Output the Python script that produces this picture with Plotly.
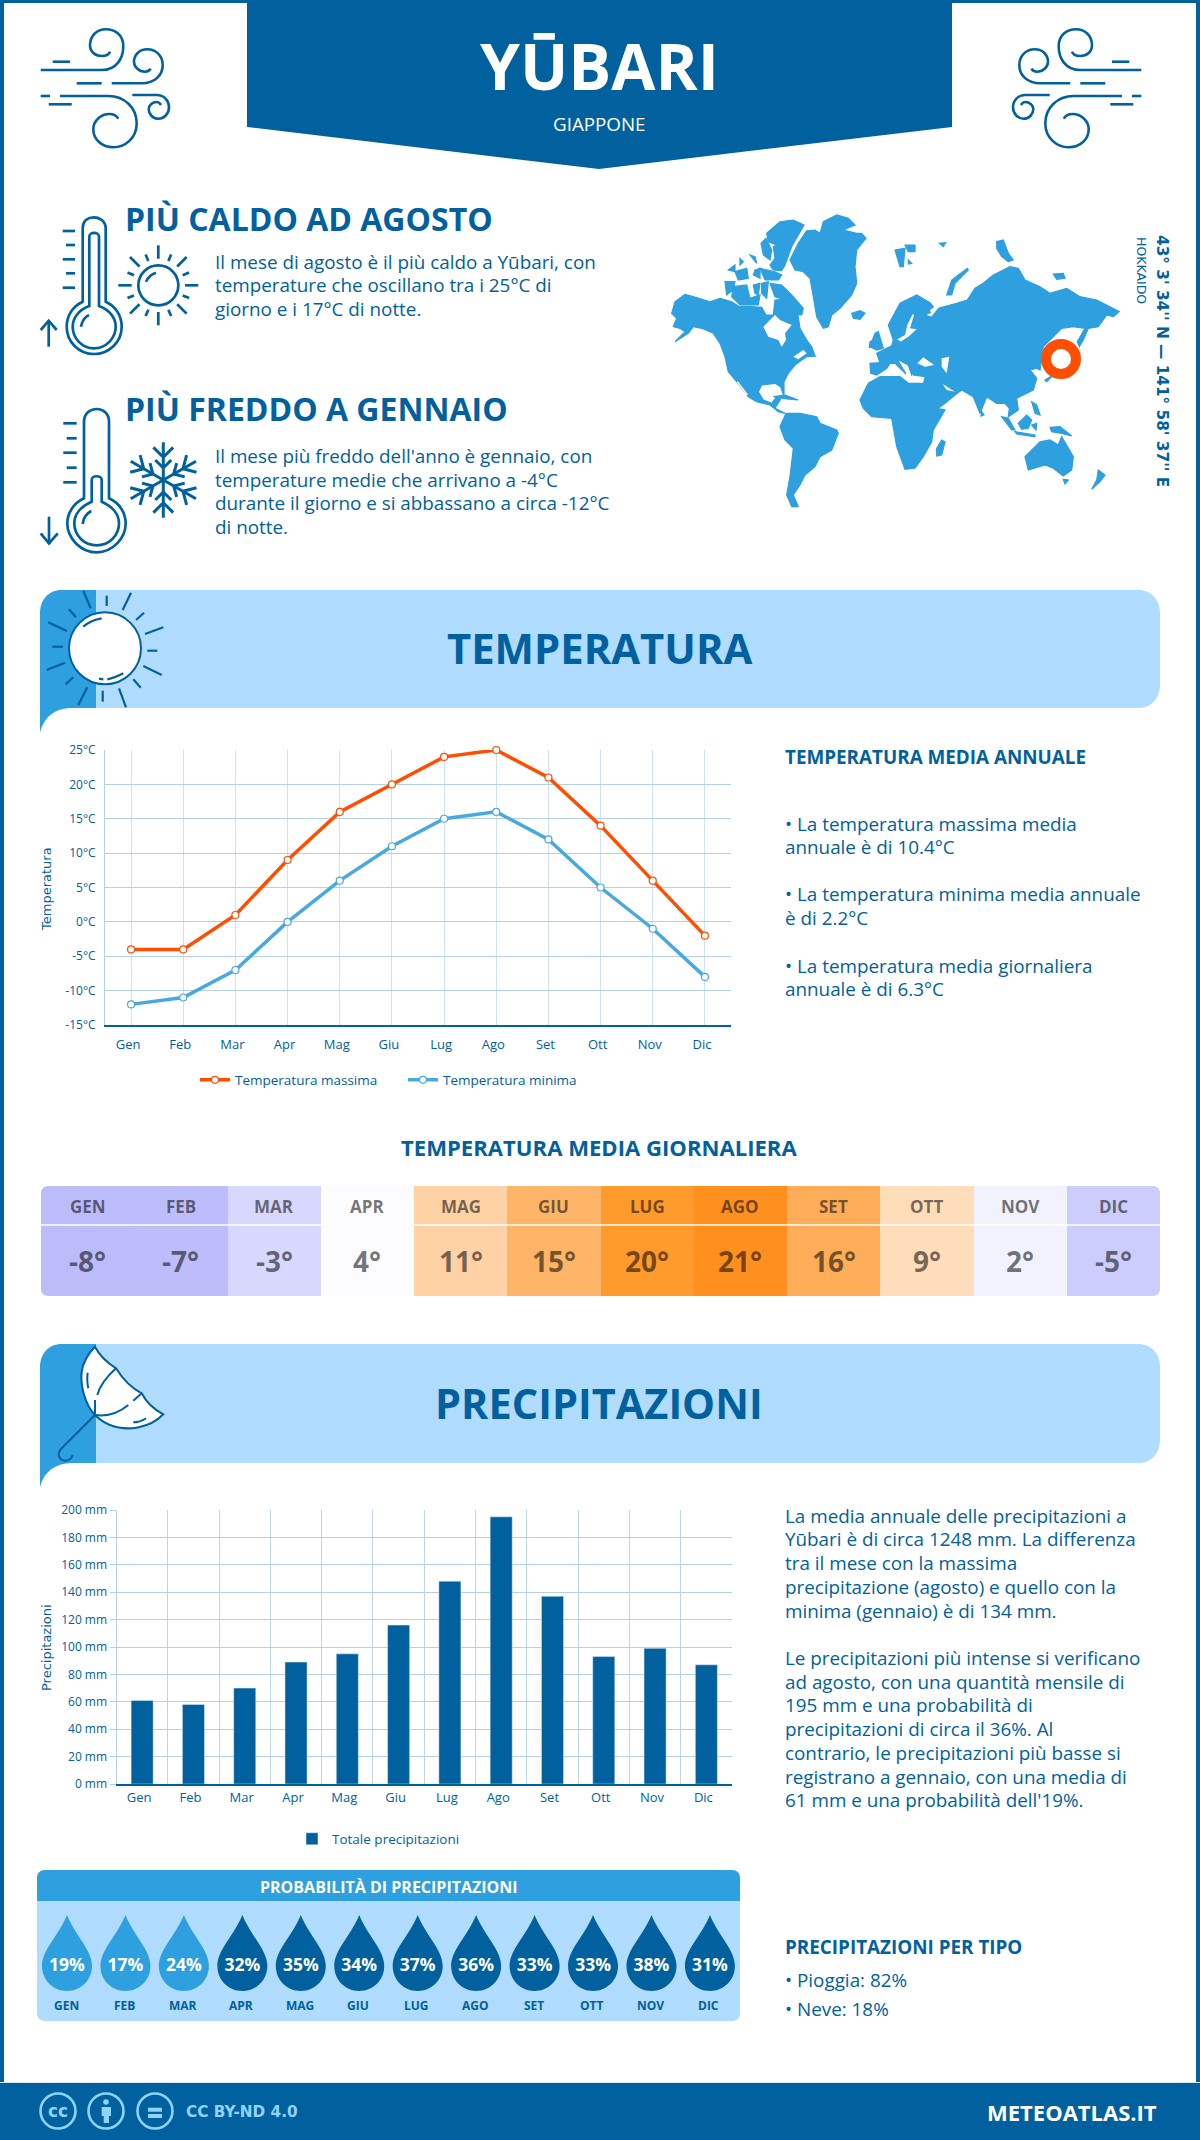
import math
import re
import plotly.graph_objects as go

W = 1200
H = 2140

months = ['Gen','Feb','Mar','Apr','Mag','Giu','Lug','Ago','Set','Ott','Nov','Dic']
months_upper = ['GEN','FEB','MAR','APR','MAG','GIU','LUG','AGO','SET','OTT','NOV','DIC']
temp_max = [-4,-4,1,9,16,20,24,25,21,14,6,-2]
temp_min = [-12,-11,-7,0,6,11,15,16,12,5,-1,-8]
temp_mean = [-8,-7,-3,4,11,15,20,21,16,9,2,-5]
precip_mm = [61,58,70,89,95,116,148,195,137,93,99,87]
precip_prob = [19,17,24,32,35,34,37,36,33,33,38,31]
temp_tick_vals = [-15,-10,-5,0,5,10,15,20,25]
temp_tick_text = ['-15°C','-10°C','-5°C','0°C','5°C','10°C','15°C','20°C','25°C']
precip_tick_vals = [0,20,40,60,80,100,120,140,160,180,200]
precip_tick_text = ['0 mm','20 mm','40 mm','60 mm','80 mm','100 mm','120 mm','140 mm','160 mm','180 mm','200 mm']

temp_color_stops = {-8:'#bdbcfb',-7:'#bebdfb',-5:'#cdcdfd',-3:'#d8d7fe',2:'#f2f2fe',4:'#fcfbfe',9:'#ffdcba',11:'#ffd2a6',15:'#ffb568',16:'#ffad59',20:'#ff9a2c',21:'#ff8f1f'}

hot_text = ['Il mese di agosto è il più caldo a Yūbari, con','temperature che oscillano tra i 25°C di','giorno e i 17°C di notte.']
cold_text = ["Il mese più freddo dell'anno è gennaio, con",'temperature medie che arrivano a -4°C','durante il giorno e si abbassano a circa -12°C','di notte.']
temp_notes = ['• La temperatura massima media','annuale è di 10.4°C','• La temperatura minima media annuale','è di 2.2°C','• La temperatura media giornaliera','annuale è di 6.3°C']
temp_notes_y = [824,847,894,918,966,989]
precip_notes = ['La media annuale delle precipitazioni a','Yūbari è di circa 1248 mm. La differenza','tra il mese con la massima','precipitazione (agosto) e quello con la','minima (gennaio) è di 134 mm.','Le precipitazioni più intense si verificano','ad agosto, con una quantità mensile di','195 mm e una probabilità di','precipitazioni di circa il 36%. Al','contrario, le precipitazioni più basse si','registrano a gennaio, con una media di',"61 mm e una probabilità dell'19%."]
precip_notes_y = [1516,1539,1563,1587,1611,1658,1682,1705,1729,1753,1777,1800]

DARK = '#01609e'
MID = '#2e9fdf'
LIGHT = '#b0dcff'
ORANGE = '#ff4e00'
GRID = '#b3d0e4'
CC_BLUE = '#8fd4ff'
FONT = 'Open Sans'
BODY = 18.85

shapes = []
annotations = []

def add_path(d, color=None, width=0, fill=None, layer='above'):
	shapes.append(dict(
		type = 'path',
		path = d,
		xref = 'x',
		yref = 'y',
		layer = layer,
		line = dict(color = color if color else 'rgba(0,0,0,0)', width = width),
		fillcolor = fill if fill else 'rgba(0,0,0,0)',
	))

def add_circle(cx, cy, r, color=None, width=0, fill=None, layer='above'):
	shapes.append(dict(
		type = 'circle',
		xref = 'x',
		yref = 'y',
		x0 = cx-r,
		x1 = cx+r,
		y0 = cy-r,
		y1 = cy+r,
		layer = layer,
		line = dict(color = color if color else 'rgba(0,0,0,0)', width = width),
		fillcolor = fill if fill else 'rgba(0,0,0,0)',
	))

def label(x, y, text, size, color=DARK, weight=400, anchor='left', family=FONT, angle=0):
	annotations.append(dict(
		x = x,
		y = y,
		xref = 'x',
		yref = 'y',
		text = text,
		showarrow = False,
		xanchor = anchor,
		yanchor = 'middle',
		textangle = angle,
		borderpad = 0,
		font = dict(family = family, size = size, color = color, weight = weight),
	))

def moved(d, ox, oy, mirror=None):
	def one_pair(m):
		x = ox + float(m.group(1))/3
		y = oy + float(m.group(2))/3
		if mirror is not None:
			x = mirror - x
		return f'{x:.1f},{y:.1f}'
	return re.sub(r'(-?[\d.]+),(-?[\d.]+)', one_pair, d)

def poly(points, ox, oy):
	return 'M' + ' L'.join(f'{ox+x/3:.1f},{oy+y/3:.1f}' for x,y in points) + ' Z'

# Frame and header --------------------------------------------------------
add_path('M0,0 L1200,0 L1200,2090 L1196,2090 L1196,3 L4,3 L4,2090 L0,2090 Z', fill=DARK, layer='below')
add_path('M247,0 L952,0 L952,127 L599,169 L247,127 Z', fill=DARK, layer='below')
add_path('M0,2082 L1200,2082 L1200,2140 L0,2140 Z', fill='#dfe6ea', layer='below')
add_path('M0,2083 L1200,2083 L1200,2140 L0,2140 Z', fill=DARK, layer='below')
label(599, 65, 'YŪBARI', 64, color='white', weight=700, anchor='center')
label(599, 124, 'GIAPPONE', 18.8, color='white', anchor='center')

wind_paths = [
	'M62,180 L245,180 C290,180 310,145 310,108 C310,75 285,58 258,58 C230,58 210,78 210,105 C210,125 225,138 245,138 C258,138 268,132 270,125',
	'M98,155 L150,155',
	'M170,220 L245,220',
	'M275,220 L365,220 C405,220 428,195 428,165 C428,135 405,118 382,118 C358,118 342,135 342,155 C342,172 358,185 375,185 C382,185 388,182 392,176',
	'M62,258 L90,258',
	'M120,258 L265,258 C315,258 350,295 350,340 C350,385 315,412 280,412 C245,412 220,388 220,358 C220,330 245,312 268,312 C280,312 290,318 295,326',
	'M86,283 L155,283',
	'M337,255 L410,255 C432,255 447,272 447,292 C447,312 432,326 415,326 C398,326 386,312 386,298 C386,285 398,276 410,276 C415,276 420,280 423,285',
]
for d in wind_paths:
	add_path(moved(d, 20, 10), color=DARK, width=2.6)
	add_path(moved(d, 20, 10, mirror=1182), color=DARK, width=2.6)

# Hot and cold blocks -----------------------------------------------------
label(124, 218.5, 'PIÙ CALDO AD AGOSTO', 32, weight=700)
for i,line in enumerate(hot_text):
	label(214, 262+i*23.3, line, BODY)
label(124, 408.5, 'PIÙ FREDDO A GENNAIO', 32, weight=700)
for i,line in enumerate(cold_text):
	label(214, 456+i*23.6, line, BODY)

hot_paths = [
	'M188,875 L188,655 C188,630 205,622 222,622 C240,622 257,635 257,655 L257,875 C290,890 305,920 305,950 C305,995 268,1032 222,1032 C176,1032 140,995 140,950 C140,920 155,890 188,875 Z',
	'M208,888 L208,680 C208,665 237,665 237,680 L237,888 C270,900 287,925 287,950 C287,985 258,1015 222,1015 C186,1015 158,985 158,950 C158,925 175,900 208,888 Z',
	'M183,950 C185,935 195,920 207,915',
	'M128,663 L165,663','M138,705 L165,705','M128,748 L165,748','M138,790 L165,790','M128,833 L165,833',
	'M86,1010 L86,932','M62,960 L86,932 L110,960',
	'M378,815 C385,800 395,792 408,788',
]
for d in hot_paths:
	add_path(moved(d, 20, 10), color=DARK, width=2.7)
add_circle(20+415/3, 10+826/3, 20, color=DARK, width=2.7)
for k in range(8):
	a = math.radians(45*k)
	d = f'M{415+80*math.cos(a):.1f},{826+80*math.sin(a):.1f} L{415+120*math.cos(a):.1f},{826+120*math.sin(a):.1f}'
	add_path(moved(d, 20, 10), color=DARK, width=2.7)
	a = math.radians(45*k+22.5)
	d = f'M{415+79*math.cos(a):.1f},{826+79*math.sin(a):.1f} L{415+100*math.cos(a):.1f},{826+100*math.sin(a):.1f}'
	add_path(moved(d, 20, 10), color=DARK, width=2.7)

cold_paths = [
	'M192,325 L192,95 C192,70 210,57 230,57 C250,57 267,70 267,95 L267,325 C300,340 317,370 317,400 C317,445 278,487 230,487 C182,487 142,445 142,400 C142,370 160,340 192,325 Z',
	'M215,335 L215,270 C215,255 245,255 245,270 L245,335 C280,350 297,375 297,400 C297,437 267,466 230,466 C193,466 163,437 163,400 C163,375 180,350 215,335 Z',
	'M188,402 C190,385 200,370 214,363',
	'M130,100 L170,100','M140,145 L170,145','M130,188 L170,188','M140,233 L170,233','M130,277 L170,277',
	'M87,380 L87,460','M62,430 L87,460 L113,430',
]
for d in cold_paths:
	add_path(moved(d, 20, 390), color=DARK, width=2.7)
for k in range(6):
	a = math.radians(90+60*k)
	ux, uy = math.cos(a), -math.sin(a)
	d = f'M430,270 L{430+113*ux:.1f},{270+113*uy:.1f}'
	for r,l in ((68,42),(36,34)):
		px, py = 430+r*ux, 270+r*uy
		for s in (-1,1):
			b = a + s*math.radians(45)
			d += f' M{px:.1f},{py:.1f} L{px+l*math.cos(b):.1f},{py-l*math.sin(b):.1f}'
	add_path(moved(d, 20, 390), color=DARK, width=3)

# World map ---------------------------------------------------------------
map_west = [
	[(45,305),(75,283),(100,290),(150,305),(180,295),(215,305),(235,318),(275,320),(305,322),(318,345),(340,345),(345,300),(375,298),(395,320),(415,350),(420,385),(440,420),(455,440),(465,468),(440,470),(425,480),(405,495),(385,520),(372,545),(372,590),(362,560),(345,550),(305,555),(295,575),(310,600),(335,610),(350,590),(362,598),(345,625),(375,640),(355,635),(330,615),(290,605),(265,590),(230,545),(205,515),(195,470),(180,430),(160,400),(125,385),(100,380),(85,400),(45,425),(75,395),(60,385),(40,380),(50,355),(35,340)],
	[(320,100),(360,65),(400,60),(432,75),(415,105),(395,140),(375,195),(365,212),(340,210),(330,195),(345,175),(340,140),(350,135),(325,125)],
	[(303,130),(318,115),(335,150),(330,180),(310,165)],
	[(330,250),(365,255),(395,285),(430,325),(425,345),(410,345),(375,300),(345,290)],
	[(220,260),(260,255),(270,295),(300,285),(295,315),(240,315),(215,290)],
	[(195,245),(225,245),(220,270),(200,285)],
	[(205,210),(225,195),(225,215)],
	[(225,215),(260,205),(265,235),(235,240)],
	[(285,210),(300,205),(300,235),(280,225)],
	[(300,205),(345,215),(365,225),(355,240),(315,240)],
	[(270,165),(285,170),(290,190)],
	[(240,175),(250,185),(240,195)],
	[(280,255),(300,250),(295,285),(285,280)],
	[(305,250),(325,245),(320,295),(305,280)],
	[(390,180),(415,130),(440,92),(465,90),(480,100),(490,65),(530,45),(565,55),(585,75),(550,90),(590,100),(605,100),(618,115),(590,150),(585,200),(590,250),(575,285),(540,325),(515,345),(505,380),(490,385),(470,350),(460,290),(450,235),(430,215),(405,210)],
	[(575,340),(600,332),(615,340),(600,358),(580,355)],
	[(360,680),(378,640),(420,640),(470,650),(480,670),(530,690),(535,700),(515,750),(480,770),(465,800),(435,825),(420,855),(400,885),(415,920),(395,920),(380,885),(390,830),(400,745),(375,720)],
	[(600,600),(625,550),(660,530),(720,530),(745,550),(790,550),(830,625),(855,630),(820,690),(815,725),(790,770),(765,805),(735,808),(710,740),(695,655),(635,650),(610,625)],
	[(845,720),(855,725),(845,765),(830,768),(830,745)],
	[(630,440),(645,400),(655,395),(670,445),(650,450)],
	[(630,425),(640,420),(640,440),(628,442)],
	[(340,590),(375,585),(415,600),(380,597)],
	[(445,450),(465,468),(450,465)],
	[(632,520),(630,490),(660,488),(650,460),(695,437),(700,420),(685,375),(720,310),(770,285),(810,308),(828,330),(795,345),(815,352),(835,325),(890,310),(922,300),(945,265),(970,250),(1000,225),(1050,200),(1075,205),(1095,240),(1140,260),(1170,280),(1220,265),(1260,290),(1310,300),(1350,320),(1378,335),(1360,350),(1340,345),(1315,380),(1285,385),(1270,420),(1258,440),(1252,425),(1275,385),(1240,380),(1205,385),(1170,420),(1150,440),(1140,510),(1130,505),(1110,510),(1130,535),(1120,570),(1070,595),(1075,630),(1045,650),(1048,625),(1035,610),(1010,610),(980,590),(960,640),(940,590),(905,570),(885,585),(855,610),(830,628),(810,595),(790,555),(795,530),(760,525),(762,505),(755,525),(745,495),(712,478),(738,522),(705,490),(690,490),(680,505),(650,525)],
]
map_east = [
	[(45,150),(75,145),(70,200),(60,200)],
	[(75,135),(105,135),(105,155),(85,155)],
	[(85,180),(95,190),(85,192)],
	[(178,130),(197,128),(190,140)],
	[(200,285),(215,240),(262,205),(265,210),(225,250),(215,285)],
	[(350,125),(370,120),(385,160),(400,180),(385,185),(365,170),(350,145)],
	[(520,222),(550,220),(555,235),(530,238)],
	[(495,540),(520,525),(500,545)],
	[(305,635),(312,645),(303,648)],
	[(365,650),(385,655),(405,690),(395,690)],
	[(405,695),(465,705),(465,710),(410,702)],
	[(415,670),(440,645),(455,660),(445,685),(425,688)],
	[(455,675),(470,670),(468,690)],
	[(510,682),(540,680),(575,708),(545,700),(515,695)],
	[(455,605),(470,615),(480,645),(465,640)],
	[(435,770),(480,725),(510,720),(535,735),(545,710),(580,770),(575,810),(550,828),(520,805),(495,795),(445,810)],
	[(550,838),(565,840),(555,852)],
	[(655,810),(675,825),(660,845),(635,868),(650,840)],
]
map_gaps = [
	[(310,380),(335,355),(345,345),(360,360),(395,375),(375,400),(378,420),(365,440),(355,420),(325,410)],
	[(400,470),(430,450),(440,460),(415,478)],
	[(230,545),(235,545),(265,585),(258,585)],
	[(758,342),(742,375),(735,405),(712,418),(722,425),(745,410),(770,388),(750,385),(762,345)],
	[(772,490),(790,472),(822,495),(795,500)],
	[(845,475),(868,470),(860,520),(845,500)],
	[(848,552),(885,575),(860,570)],
	[(810,330),(828,318),(835,325),(815,345)],
]
for points in map_west:
	add_path(poly(points, 660, 200), color=MID, width=1.2, fill=MID, layer='below')
for points in map_east:
	add_path(poly(points, 880, 200), color=MID, width=1.2, fill=MID, layer='below')
for points in map_gaps:
	add_path(poly(points, 660, 200), fill='white', layer='below')
add_circle(1061, 359, 15, color=ORANGE, width=10, fill='white')
label(1162, 361, "43° 3' 34'' N — 141° 58' 37'' E", 15.3, weight=700, anchor='center', family='DejaVu Sans', angle=90)
label(1142, 270, 'HOKKAIDO', 12.5, anchor='center', family='DejaVu Sans', angle=90)

# Section bands -----------------------------------------------------------
def band(top, bottom):
	add_path(f'M96,{top} L1138,{top} C1152,{top} 1160,{top+10} 1160,{top+24} L1160,{bottom-24} C1160,{bottom-10} 1152,{bottom} 1138,{bottom} L96,{bottom} Z', fill=LIGHT, layer='below')
	add_path(f'M96,{top} L62,{top} C48,{top} 40,{top+10} 40,{top+24} L40,{top+143} C44,{bottom+8} 56,{bottom} 72,{bottom} L96,{bottom} Z', fill=MID, layer='below')

band(590, 708)
label(599, 647, 'TEMPERATURA', 41.8, weight=700, anchor='center')
band(1344, 1463)
label(599, 1403, 'PRECIPITAZIONI', 41.5, weight=700, anchor='center')

sun_rays = [
	'M190,2 L212,55','M260,17 L260,48','M333,8 L308,60','M372,68 L348,90','M430,112 L375,132','M412,182 L382,182',
	'M425,255 L370,228','M362,293 L340,268','M318,352 L297,295','M248,335 L248,302','M175,345 L202,292','M137,283 L160,262',
	'M80,240 L135,218','M97,170 L128,170','M85,97 L140,123','M147,58 L168,82',
	'M190,110 C205,97 225,88 245,85','M262,268 C280,265 295,258 310,250','M237,266 L250,268',
]
add_circle(20+255/3, 590+175/3, 36, color=DARK, width=2, fill='white')
for d in sun_rays:
	add_path(moved(d, 20, 590), color=DARK, width=2.2)

umbrella_canopy = 'M225,35 C240,65 265,85 288,100 C310,135 335,160 365,175 C380,205 405,225 430,238 C390,280 320,290 270,270 C250,262 235,250 225,240 C195,210 180,150 185,110 C188,85 205,55 225,35 Z'
umbrella_lines = [
	'M288,100 C260,125 240,150 232,180','M225,195 L225,240','M225,240 C260,245 295,235 325,210','M340,197 L365,175',
	'M203,113 C200,130 202,145 205,160','M340,262 C355,262 365,258 378,250',
	'M225,240 L125,340 C110,355 115,375 135,377 C145,377 155,370 158,360',
]
add_path(moved(umbrella_canopy, 20, 1335), color=DARK, width=2, fill='white')
for d in umbrella_lines:
	add_path(moved(d, 20, 1335), color=DARK, width=2)

# Notes next to the charts ------------------------------------------------
label(784, 757, 'TEMPERATURA MEDIA ANNUALE', 18.85, weight=700)
for line,y in zip(temp_notes, temp_notes_y):
	label(784, y, line, BODY)
for line,y in zip(precip_notes, precip_notes_y):
	label(784, y, line, BODY)
label(784, 1947, 'PRECIPITAZIONI PER TIPO', 18.85, weight=700)
label(784, 1980, '• Pioggia: 82%', BODY)
label(784, 2009, '• Neve: 18%', BODY)
label(46, 889, 'Temperatura', 13, family='DejaVu Sans', anchor='center', angle=-90)
label(46, 1648, 'Precipitazioni', 13, family='DejaVu Sans', anchor='center', angle=-90)

# Daily mean table --------------------------------------------------------
label(599, 1147, 'TEMPERATURA MEDIA GIORNALIERA', 22.1, weight=700, anchor='center')
cell = (1160-41)/12
for i,(m,t) in enumerate(zip(months_upper, temp_mean)):
	label(41+cell*(i+.5), 1206, m, 17, color='rgba(0,0,0,0.55)', weight=700, anchor='center')
	label(41+cell*(i+.5), 1261, f'{t}°', 28, color='rgba(0,0,0,0.55)', weight=700, anchor='center')
add_path('M41,1225 L1160,1225', color='white', width=1.5)
for x,y,sx,sy in ((41,1186,1,1),(1160,1186,-1,1),(41,1296,1,-1),(1160,1296,-1,-1)):
	add_path(f'M{x},{y} L{x+sx*7},{y} C{x+sx*3},{y} {x},{y+sy*3} {x},{y+sy*7} Z', fill='white')

# Rain probability --------------------------------------------------------
add_path('M37,1901 L37,2013 C37,2018 40,2021 45,2021 L732,2021 C737,2021 740,2018 740,2013 L740,1901 Z', fill=LIGHT, layer='below')
add_path('M37,1901 L37,1878 C37,1873 40,1870 45,1870 L732,1870 C737,1870 740,1873 740,1878 L740,1901 Z', fill=MID, layer='below')
label(389, 1887, 'PROBABILITÀ DI PRECIPITAZIONI', 16, color='white', weight=700, anchor='center')
drop_x = [67+i*58.45 for i in range(len(precip_prob))]
for x,p,m in zip(drop_x, precip_prob, months_upper):
	add_path(
		f'M{x},1915 C{x+8},1935 {x+25},1950 {x+25},1966 C{x+25},1980 {x+14},1991 {x},1991 C{x-14},1991 {x-25},1980 {x-25},1966 C{x-25},1950 {x-8},1935 {x},1915 Z',
		fill = DARK if p >= 30 else MID,
		layer = 'below',
	)
	label(x-1, 2005, m, 12, weight=700, anchor='center')

# Footer ------------------------------------------------------------------
for x in (58, 106, 155):
	add_circle(x, 2111, 17.5, color=CC_BLUE, width=2.6)
label(58, 2111, 'cc', 17, color=CC_BLUE, weight=700, anchor='center', family='DejaVu Sans')
add_circle(106, 2102, 2.8, fill=CC_BLUE)
add_path('M101.7,2107 L111,2107 L111,2116 L109,2116 L109,2123 L103.7,2123 L103.7,2116 L101.7,2116 Z', fill=CC_BLUE)
add_path('M148,2107.7 L162,2107.7 L162,2111.7 L148,2111.7 Z', fill=CC_BLUE)
add_path('M148,2114 L162,2114 L162,2118 L148,2118 Z', fill=CC_BLUE)
label(185, 2112, 'CC BY-ND 4.0', 15.3, color=CC_BLUE, weight=700, family='DejaVu Sans')
label(1158, 2112, 'METEOATLAS.IT', 22, color='white', weight=700, anchor='right')

# Traces ------------------------------------------------------------------
fig = go.Figure()
fig.add_trace(
	go.Scatter(
		x = drop_x,
		y = [1967]*len(drop_x),
		text = [f'{p}%' for p in precip_prob],
		mode = 'text',
		textfont = dict(family = FONT, size = 17.5, color = 'white', weight = 700),
		showlegend = False,
		xaxis = 'x',
		yaxis = 'y',
	)
)
fig.add_trace(
	go.Scatter(
		x = months,
		y = temp_max,
		name = 'Temperatura massima',
		mode = 'lines+markers',
		line = dict(color = ORANGE, width = 3.5),
		marker = dict(color = 'white', size = 7, line = dict(color = ORANGE, width = 1.2)),
		cliponaxis = False,
		xaxis = 'x2',
		yaxis = 'y2',
		legend = 'legend',
	)
)
fig.add_trace(
	go.Scatter(
		x = months,
		y = temp_min,
		name = 'Temperatura minima',
		mode = 'lines+markers',
		line = dict(color = '#48a8e2', width = 3.5),
		marker = dict(color = 'white', size = 7, line = dict(color = '#48a8e2', width = 1.2)),
		cliponaxis = False,
		xaxis = 'x2',
		yaxis = 'y2',
		legend = 'legend',
	)
)
fig.add_trace(
	go.Bar(
		x = months,
		y = precip_mm,
		name = 'Totale precipitazioni',
		marker = dict(color = DARK),
		xaxis = 'x3',
		yaxis = 'y3',
		legend = 'legend2',
	)
)
stops = sorted(temp_color_stops)
fig.add_trace(
	go.Heatmap(
		x = months_upper,
		y = ['t'],
		z = [temp_mean],
		zmin = stops[0],
		zmax = stops[-1],
		colorscale = [[(t-stops[0])/(stops[-1]-stops[0]), temp_color_stops[t]] for t in stops],
		showscale = False,
		xaxis = 'x4',
		yaxis = 'y4',
	)
)

def x_domain(a, b):
	return [a/W, b/W]

def y_domain(top, bottom):
	return [1-bottom/H, 1-top/H]

tick_font = dict(family = FONT, size = 12, color = DARK)
month_font = dict(family = FONT, size = 13, color = DARK)

fig.update_layout(
	width = W,
	height = H,
	margin = dict(l=0, r=0, t=0, b=0, autoexpand=False),
	paper_bgcolor = 'white',
	plot_bgcolor = 'white',
	bargap = 0.57,
	font = dict(family = FONT, color = DARK),
	shapes = shapes,
	annotations = annotations,
	xaxis = dict(domain = [0,1], range = [0,W], visible = False, fixedrange = True),
	yaxis = dict(domain = [0,1], range = [H,0], visible = False, fixedrange = True),
	xaxis2 = dict(
		domain = x_domain(105,731),
		anchor = 'y2',
		range = [-0.5,11.5],
		type = 'category',
		showgrid = True,
		gridcolor = '#cfe2ef',
		gridwidth = 1,
		showline = True,
		linecolor = DARK,
		linewidth = 2,
		ticks = 'outside',
		ticklen = 6,
		tickcolor = 'white',
		tickfont = month_font,
		ticklabelshift = -3,
	),
	yaxis2 = dict(
		domain = y_domain(750,1025),
		anchor = 'x2',
		range = [-15,25],
		tickmode = 'array',
		tickvals = temp_tick_vals,
		ticktext = temp_tick_text,
		showgrid = True,
		gridcolor = GRID,
		gridwidth = 1,
		zeroline = False,
		showline = True,
		linecolor = GRID,
		ticks = 'outside',
		ticklen = 6,
		tickcolor = 'white',
		tickfont = tick_font,
	),
	xaxis3 = dict(
		domain = x_domain(116.5,732),
		anchor = 'y3',
		range = [-0.5,11.5],
		type = 'category',
		tickson = 'boundaries',
		showgrid = True,
		gridcolor = '#bcd6e8',
		gridwidth = 1,
		showline = True,
		linecolor = DARK,
		linewidth = 2,
		ticks = 'outside',
		ticklen = 6,
		tickcolor = 'white',
		tickfont = month_font,
		ticklabelshift = -3,
	),
	yaxis3 = dict(
		domain = y_domain(1510,1784),
		anchor = 'x3',
		range = [0,200],
		tickmode = 'array',
		tickvals = precip_tick_vals,
		ticktext = precip_tick_text,
		showgrid = True,
		gridcolor = GRID,
		gridwidth = 1,
		zeroline = False,
		showline = True,
		linecolor = GRID,
		ticks = 'outside',
		ticklen = 6,
		tickcolor = GRID,
		tickfont = tick_font,
	),
	xaxis4 = dict(domain = x_domain(41,1160), anchor = 'y4', visible = False, fixedrange = True),
	yaxis4 = dict(domain = y_domain(1186,1296), anchor = 'x4', visible = False, fixedrange = True),
	legend = dict(
		orientation = 'h',
		x = 195/W,
		y = 1-1080/H,
		xanchor = 'left',
		yanchor = 'middle',
		entrywidth = 163,
		font = dict(family = FONT, size = 13.5, color = DARK),
		bgcolor = 'rgba(0,0,0,0)',
	),
	legend2 = dict(
		orientation = 'h',
		x = 292/W,
		y = 1-1839/H,
		xanchor = 'left',
		yanchor = 'middle',
		font = dict(family = FONT, size = 13.5, color = DARK),
		bgcolor = 'rgba(0,0,0,0)',
	),
)

fig.write_html("out.html", config = {'displayModeBar': False}, post_script = "document.body.style.margin='0';")
